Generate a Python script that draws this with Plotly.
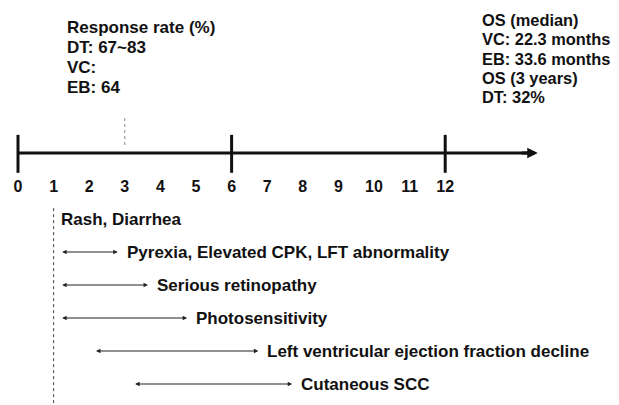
import plotly.graph_objects as go

# ---- data ----
month_ticks = list(range(0, 13))
major_ticks = [0, 6, 12]
response_month = 3
onset_month = 1
axis_end = 14.6

events = ["Rash, Diarrhea",
          "Pyrexia, Elevated CPK, LFT abnormality",
          "Serious retinopathy",
          "Photosensitivity",
          "Left ventricular ejection fraction decline",
          "Cutaneous SCC"]
event_start = [1.0, 1.2, 1.2, 1.2, 2.15, 3.25]
event_end = [None, 2.8, 3.65, 4.75, 6.75, 7.7]
event_row = [2, 3, 4, 5, 6, 7]

response_lines = ["Response rate (%)", "DT: 67~83", "VC:", "EB: 64"]
os_lines = ["OS (median)", "VC: 22.3 months", "EB: 33.6 months", "OS (3 years)", "DT: 32%"]

FONT = "Liberation Sans, Arial, sans-serif"
INK = "#111111"

# figure geometry (page body adds an 8px margin)
W, H = 611, 397
X0, PX = 10, 35.6       # pixel of month 0, pixels per month
Y0, PY = 145, 33        # pixel of timeline, pixels per row


def row_of(pix):
    return (pix - Y0) / PY


def month_of(pix):
    return (pix - X0) / PX


fig = go.Figure()

# main timeline shaft
fig.add_trace(go.Scatter(x=[0, axis_end - 0.2], y=[0, 0], mode="lines",
                         line=dict(color=INK, width=3), hoverinfo="skip", showlegend=False))
# major ticks
for m in major_ticks:
    fig.add_trace(go.Scatter(x=[m, m], y=[-0.55, 0.6], mode="lines",
                             line=dict(color=INK, width=3), hoverinfo="skip", showlegend=False))
# response assessment marker (grey dotted)
fig.add_trace(go.Scatter(x=[response_month, response_month], y=[-1.06, -0.15], mode="lines",
                         line=dict(color="#888888", width=1, dash="dot"),
                         hoverinfo="skip", showlegend=False))
# onset vertical dashed line
fig.add_trace(go.Scatter(x=[onset_month, onset_month], y=[1.67, 7.8], mode="lines",
                         line=dict(color="#444444", width=1, dash="dot"),
                         hoverinfo="skip", showlegend=False))

annotations = []
# arrowhead of main axis
annotations.append(dict(x=axis_end, y=0, ax=axis_end - 0.5, ay=0, xref="x", yref="y",
                        axref="x", ayref="y", text="", showarrow=True, arrowhead=2,
                        arrowsize=0.7, arrowwidth=3, arrowcolor=INK, standoff=0, startstandoff=0))

tfont = dict(family=FONT, size=17, color=INK, weight="bold")
rfont = dict(family=FONT, size=16.4, color=INK, weight="bold")

for name, s, e, r in zip(events, event_start, event_end, event_row):
    if e is None:
        annotations.append(dict(x=s, y=r, xref="x", yref="y", text=name, showarrow=False,
                                xanchor="left", yanchor="middle", xshift=5, font=tfont))
    else:
        annotations.append(dict(x=e, y=r, ax=s, ay=r, xref="x", yref="y", axref="x", ayref="y",
                                text="", showarrow=True, arrowside="end+start",
                                arrowhead=2, startarrowhead=2, arrowsize=0.8, startarrowsize=0.8,
                                arrowwidth=1.1, arrowcolor="#222222", standoff=0, startstandoff=0))
        annotations.append(dict(x=e, y=r, xref="x", yref="y", text=name, showarrow=False,
                                xanchor="left", yanchor="middle", xshift=7, font=tfont))

for i, line in enumerate(response_lines):
    annotations.append(dict(x=month_of(57), y=row_of(19 + 20 * i), xref="x", yref="y", text=line,
                            showarrow=False, xanchor="left", yanchor="middle", font=tfont))
for i, line in enumerate(os_lines):
    annotations.append(dict(x=month_of(472), y=row_of(12 + 19.25 * i), xref="x", yref="y",
                            text=line, showarrow=False, xanchor="left", yanchor="middle",
                            font=rfont))

fig.update_layout(
    width=W, height=H, margin=dict(l=0, r=0, t=0, b=0),
    paper_bgcolor="white", plot_bgcolor="white", showlegend=False,
    annotations=annotations,
    xaxis=dict(range=[-X0 / PX, (W - X0) / PX], tickvals=month_ticks,
               ticktext=[str(t) for t in month_ticks], anchor="free", position=1 - Y0 / H,
               ticks="outside", ticklen=19, tickcolor="rgba(0,0,0,0)",
               tickfont=dict(family=FONT, size=16, color=INK, weight="bold"),
               showgrid=False, zeroline=False, showline=False, fixedrange=True,
               automargin=False),
    yaxis=dict(range=[(H - Y0) / PY, -Y0 / PY], visible=False,
               showgrid=False, zeroline=False, fixedrange=True),
)

fig.write_html("out.html")
